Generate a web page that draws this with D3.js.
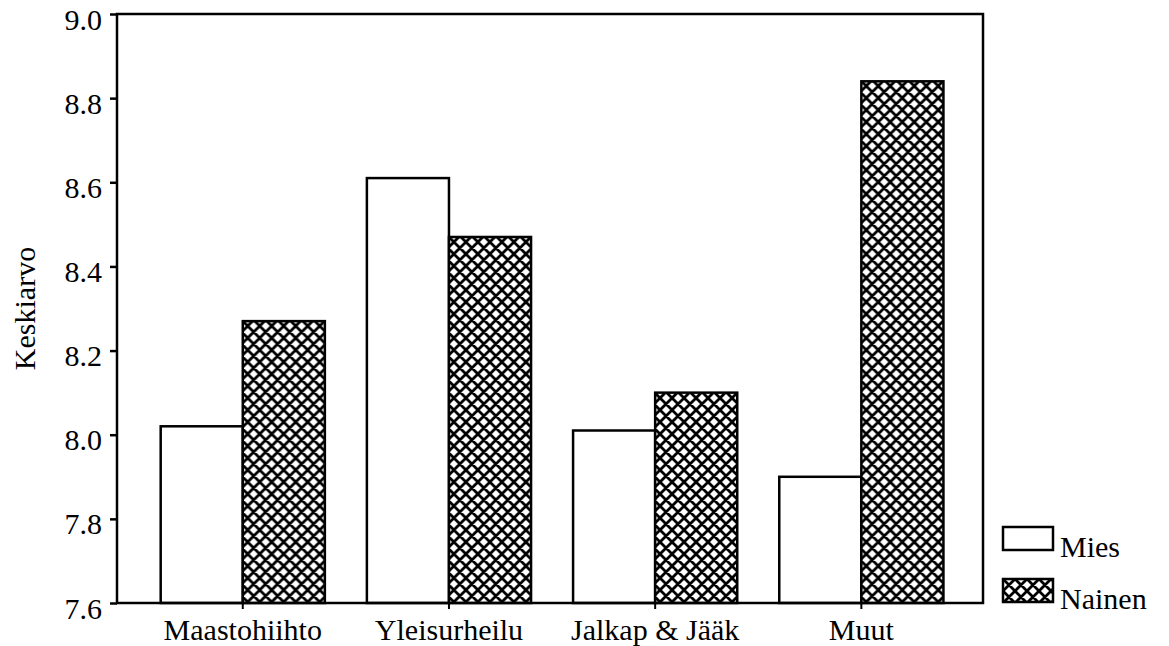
<!DOCTYPE html>
<meta charset="utf-8">
<style>
    body { margin: 0; background: white; }
    svg text { font-family: "Liberation Serif", "Times New Roman", Times, "DejaVu Serif", serif; fill: black; }
</style>
<body>
    <script src="https://d3js.org/d3.v7.min.js"></script>
    <script>
        // data
        var categories = ["Maastohiihto", "Yleisurheilu", "Jalkap & Jääk", "Muut"];
        var series = ["Mies", "Nainen"];
        var mies = [8.02, 8.61, 8.01, 7.90];
        var nainen = [8.27, 8.47, 8.10, 8.84];
        var yTicks = [7.6, 7.8, 8.0, 8.2, 8.4, 8.6, 8.8, 9.0];

        var serif = '"Liberation Serif", "Times New Roman", Times, "DejaVu Serif", serif';

        var width = 1169,
            height = 646;
        var margin = {top: 14, right: 186, bottom: 43, left: 117};
        var plotW = width - margin.left - margin.right,
            plotH = height - margin.top - margin.bottom;

        var svg = d3.select("body").append("svg")
            .attr("width", width)
            .attr("height", height)
            .style("font-family", serif);

        // cross hatch for Nainen
        var defs = svg.append("defs");
        var pat = defs.append("pattern")
            .attr("id", "hatch")
            .attr("patternUnits", "userSpaceOnUse")
            .attr("width", 12)
            .attr("height", 12);
        pat.append("rect").attr("width", 12).attr("height", 12).attr("fill", "white");
        pat.append("path")
            .attr("d", "M0,0L12,12M0,12L12,0M-3,3L3,-3M9,15L15,9M-3,9L3,15M9,-3L15,3")
            .attr("stroke", "black")
            .attr("stroke-width", 2.8);

        var g = svg.append("g")
            .attr("transform", "translate(" + margin.left + "," + margin.top + ")");

        var x0 = d3.scaleBand()
            .domain(categories)
            .range([0, plotW])
            .paddingInner(0)
            .paddingOuter(0.1)
            .align(0.55);

        var x1 = d3.scaleBand()
            .domain(series)
            .range([0, x0.bandwidth()])
            .paddingOuter(0.256);

        var y = d3.scaleLinear()
            .domain([7.6, 9.0])
            .range([plotH, 0]);

        var rows = categories.map(function(c, i) {
            return {cat: c, vals: [{s: "Mies", v: mies[i]}, {s: "Nainen", v: nainen[i]}]};
        });

        // bars
        var groups = g.selectAll("g.grp")
            .data(rows)
            .enter().append("g")
            .attr("class", "grp")
            .attr("transform", function(d) { return "translate(" + x0(d.cat) + ",0)"; });

        groups.selectAll("rect")
            .data(function(d) { return d.vals; })
            .enter().append("rect")
            .attr("x", function(d) { return x1(d.s); })
            .attr("y", function(d) { return y(d.v); })
            .attr("width", x1.bandwidth())
            .attr("height", function(d) { return plotH - y(d.v); })
            .attr("fill", function(d) { return d.s == "Mies" ? "white" : "url(#hatch)"; })
            .attr("stroke", "black")
            .attr("stroke-width", 2.5);

        // frame
        g.append("rect")
            .attr("width", plotW)
            .attr("height", plotH)
            .attr("fill", "none")
            .attr("stroke", "black")
            .attr("stroke-width", 2.5);

        // y axis
        var yAxis = g.append("g")
            .call(d3.axisLeft(y).tickValues(yTicks).tickFormat(d3.format(".1f")).tickSize(7).tickPadding(8))
            .attr("font-family", serif);
        yAxis.select(".domain").remove();
        yAxis.selectAll("line").attr("stroke-width", 2.5);
        yAxis.selectAll("text").style("font-size", "30px").style("font-family", serif).attr("dy", "0.5em");

        // x axis
        var xAxis = g.append("g")
            .attr("transform", "translate(0," + plotH + ")")
            .call(d3.axisBottom(x0).tickSize(6).tickPadding(10))
            .attr("font-family", serif);
        xAxis.select(".domain").remove();
        xAxis.selectAll("line").attr("stroke-width", 2);
        xAxis.selectAll("text").style("font-size", "30px").style("font-family", serif);

        // y title
        svg.append("text")
            .attr("transform", "translate(35," + (margin.top + plotH / 2) + ") rotate(-90)")
            .attr("text-anchor", "middle")
            .style("font-size", "30px")
            .style("font-family", serif)
            .text("Keskiarvo");

        // legend
        var legend = svg.append("g")
            .attr("transform", "translate(1003,527)");
        var li = legend.selectAll("g")
            .data(series)
            .enter().append("g")
            .attr("transform", function(d, i) { return "translate(0," + (i * 52) + ")"; });
        li.append("rect")
            .attr("width", 50)
            .attr("height", 23)
            .attr("fill", function(d) { return d == "Mies" ? "white" : "url(#hatch)"; })
            .attr("stroke", "black")
            .attr("stroke-width", 2.5);
        li.append("text")
            .attr("x", 57)
            .attr("y", 30)
            .style("font-size", "30px")
            .style("font-family", serif)
            .text(function(d) { return d; });
    </script>
</body>
</html>
